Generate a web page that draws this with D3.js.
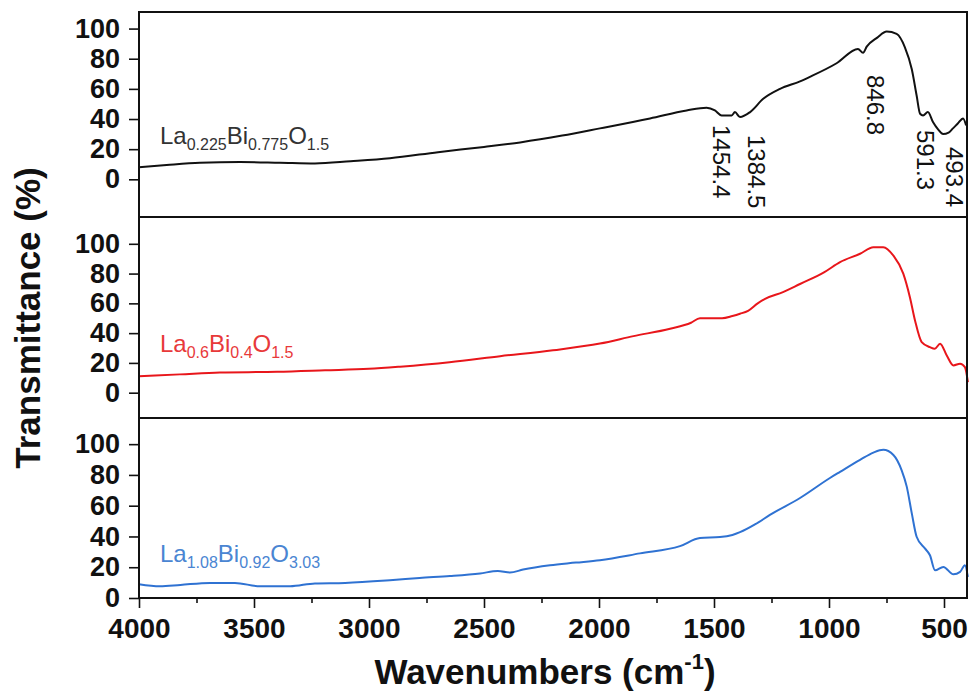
<!DOCTYPE html>
<html>
<head>
<meta charset="utf-8">
<script src="https://cdn.jsdelivr.net/npm/d3@7"></script>
<style>
  body { margin: 0; background: #fff; }
  text { font-family: "Liberation Sans", Arial, sans-serif; }
</style>
</head>
<body>
<script>
// FTIR data: wavenumber (cm-1) and transmittance (%)
const blackWn = [4000, 3880, 3735, 3560, 3387, 3235, 3080, 2909, 2700, 2500, 2343, 2160, 1996, 1778, 1619, 1532, 1496, 1467, 1423, 1409, 1387, 1343, 1286, 1213, 1126, 1083, 967, 874, 852, 836, 790, 749, 706, 670, 640, 619, 604, 591, 570, 548, 525, 504, 480, 461, 440, 417, 404];
const blackT  = [8, 9.5, 11, 11.5, 11, 10.5, 12, 14, 18, 21.5, 24.5, 29, 33.8, 40.4, 45.7, 47.5, 45.7, 42.4, 42.4, 44.6, 41.3, 44.6, 53.4, 60, 65, 68, 77, 86.5, 84, 88, 94, 98, 96.5, 87.6, 73, 55.6, 43.5, 42.4, 44.6, 38, 33, 30, 31, 33.8, 37, 40.4, 35.8];

const redWn = [4000, 3822, 3648, 3400, 3191, 3000, 2865, 2650, 2430, 2200, 1996, 1850, 1691, 1600, 1561, 1510, 1465, 1420, 1387, 1352, 1310, 1278, 1200, 1126, 1020, 952, 865, 807, 764, 720, 677, 648, 626, 597, 561, 540, 517, 488, 459, 430, 409, 396];
const redT  = [11, 12.3, 13.6, 14, 15, 16, 17.5, 20.5, 24.5, 28.5, 33, 38, 43, 47, 50, 50, 50, 51.5, 53, 55, 60, 63, 67.5, 73, 81, 87.7, 93.3, 97.7, 97.7, 92, 80, 64, 48.5, 34, 30.6, 29.5, 32.9, 25, 18.3, 19.5, 17.2, 7];

const blueWn = [4000, 3909, 3820, 3691, 3583, 3474, 3343, 3235, 3104, 2909, 2780, 2648, 2517, 2440, 2387, 2330, 2213, 2100, 1996, 1822, 1648, 1561, 1474, 1420, 1387, 1320, 1257, 1126, 996, 952, 865, 807, 764, 720, 684, 662, 640, 619, 583, 561, 539, 503, 459, 430, 409, 396];
const blueT  = [9, 7.6, 8.5, 9.8, 9.8, 7.6, 7.6, 9.5, 9.8, 11.5, 13, 14.3, 16, 17.5, 16.5, 18.5, 21.3, 23, 24.6, 29, 33.7, 39, 39.6, 41, 42.8, 48, 54, 65, 78, 82, 89.8, 94.5, 96.3, 93, 83, 72.4, 55, 39.8, 32.2, 27.8, 18, 20.2, 15.4, 17, 21.3, 13.7];

// sample names (element, subscript)
const blackName = [["La", "0.225"], ["Bi", "0.775"], ["O", "1.5"]];
const redName   = [["La", "0.6"], ["Bi", "0.4"], ["O", "1.5"]];
const blueName  = [["La", "1.08"], ["Bi", "0.92"], ["O", "3.03"]];

// band labels on the top spectrum
const peakWn   = [1454.4, 1384.5, 846.8, 591.3, 493.4];
const peakText = ["1454.4", "1384.5", "846.8", "591.3", "493.4"];

// tick values
const xMajor = [4000, 3500, 3000, 2500, 2000, 1500, 1000, 500];
const xMinor = [3750, 3250, 2750, 2250, 1750, 1250, 750];
const yTicks = [0, 20, 40, 60, 80, 100];

// layout
const width = 970, height = 694;
const left = 139, right = 967;
const panels = [
  { top: 12,  bottom: 217, domain: [-25, 111], wn: blackWn, t: blackT, color: "#111", name: blackName, nameColor: "#333", nameY: 144 },
  { top: 217, bottom: 418, domain: [-17, 118], wn: redWn,   t: redT,   color: "#e8161b", name: redName, nameColor: "#e8393a", nameY: 352 },
  { top: 418, bottom: 598, domain: [0, 117],   wn: blueWn,  t: blueT,  color: "#2f72d2", name: blueName, nameColor: "#4a85d2", nameY: 562 }
];
// band label placement: x shift from the band, top y
const peakDx = [-11, 7, 3, -6, 0];
const peakY  = [125, 135, 75, 130, 147];

const svg = d3.select("body").append("svg")
  .attr("width", width)
  .attr("height", height);

const x = d3.scaleLinear().domain([4000, 400]).range([left, right]);

panels.forEach(function (p) {
  const y = d3.scaleLinear().domain(p.domain).range([p.bottom, p.top]);
  const g = svg.append("g");

  // spectrum
  const line = d3.line()
    .x((d, i) => x(p.wn[i]))
    .y(d => y(d))
    .curve(d3.curveMonotoneX);
  g.append("path")
    .datum(p.t)
    .attr("d", line)
    .attr("fill", "none")
    .attr("stroke", p.color)
    .attr("stroke-width", 2)
    .attr("stroke-linejoin", "round");

  // y axis
  const yAxis = g.append("g")
    .attr("transform", `translate(${left},0)`)
    .call(d3.axisLeft(y).tickValues(yTicks).tickSize(10).tickPadding(9));
  yAxis.select(".domain").remove();
  yAxis.selectAll("line").attr("stroke", "#111").attr("stroke-width", 1.6);
  yAxis.selectAll("text")
    .attr("font-size", 27)
    .attr("font-weight", "bold")
    .attr("fill", "#111")
    .style("font-family", "'Liberation Sans', Arial, sans-serif");

  // frame
  g.append("rect")
    .attr("x", left)
    .attr("y", p.top)
    .attr("width", right - left)
    .attr("height", p.bottom - p.top)
    .attr("fill", "none")
    .attr("stroke", "#111")
    .attr("stroke-width", 2);

  // sample name with subscripts
  const label = g.append("text")
    .attr("x", 160)
    .attr("y", p.nameY)
    .attr("fill", p.nameColor)
    .attr("font-size", 24);
  p.name.forEach(function (part, i) {
    label.append("tspan").attr("dy", i === 0 ? 0 : -6).text(part[0]);
    label.append("tspan").attr("font-size", 16).attr("dy", 6).text(part[1]);
  });
});

// band labels, rotated to read downwards
svg.append("g").selectAll("text")
  .data(peakWn)
  .join("text")
  .attr("transform", (d, i) => `translate(${x(d) + peakDx[i]},${peakY[i]}) rotate(90)`)
  .attr("font-size", 24)
  .attr("fill", "#111")
  .text((d, i) => peakText[i]);

// bottom x axis
const xAxis = svg.append("g")
  .attr("transform", "translate(0,598)")
  .call(d3.axisBottom(x).tickValues(xMajor).tickSize(10).tickPadding(10).tickFormat(d3.format("d")));
xAxis.select(".domain").remove();
xAxis.selectAll("line").attr("stroke", "#111").attr("stroke-width", 1.6);
xAxis.selectAll("text")
  .attr("font-size", 28)
  .attr("font-weight", "bold")
  .attr("fill", "#111")
  .style("font-family", "'Liberation Sans', Arial, sans-serif");

const xMinorAxis = svg.append("g")
  .attr("transform", "translate(0,598)")
  .call(d3.axisBottom(x).tickValues(xMinor).tickSize(5).tickFormat(""));
xMinorAxis.select(".domain").remove();
xMinorAxis.selectAll("line").attr("stroke", "#111").attr("stroke-width", 1.6);

// axis titles
const xTitle = svg.append("text")
  .attr("x", 545)
  .attr("y", 684)
  .attr("text-anchor", "middle")
  .attr("font-size", 35)
  .attr("font-weight", "bold")
  .attr("fill", "#111");
xTitle.append("tspan").text("Wavenumbers (cm");
xTitle.append("tspan").attr("font-size", 22).attr("dy", -15).text("-1");
xTitle.append("tspan").attr("dy", 15).text(")");

svg.append("text")
  .attr("transform", "translate(40,318) rotate(-90)")
  .attr("text-anchor", "middle")
  .attr("font-size", 35)
  .attr("font-weight", "bold")
  .attr("fill", "#111")
  .text("Transmittance (%)");
</script>
</body>
</html>
